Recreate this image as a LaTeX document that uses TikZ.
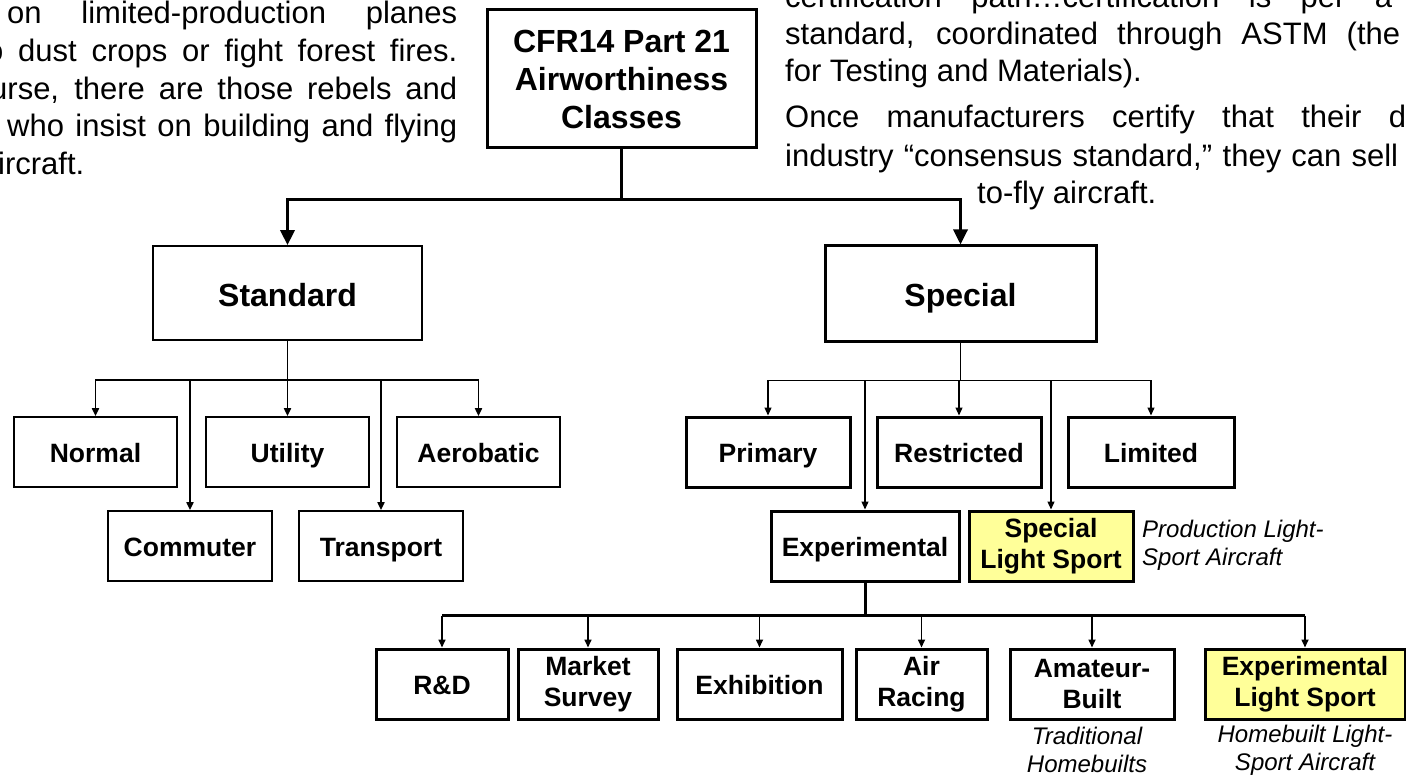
\documentclass[tikz,border=0pt]{standalone}
\usepackage{fontspec}
\setmainfont{Liberation Sans}
\usetikzlibrary{arrows.meta}
\definecolor{lsayellow}{HTML}{FFFF99}

\begin{document}
\begin{tikzpicture}[
  x=1pt,
  y=-1pt,
  topbox/.style={
    draw=black,
    fill=white,
    line width=3pt,
    inner sep=0pt,
    align=center,
    font=\bfseries\fontsize{32}{38}\selectfont
  },
  classbox/.style={
    draw=black,
    fill=white,
    line width=3pt,
    inner sep=0pt,
    minimum height=70pt,
    align=center,
    font=\bfseries\fontsize{26.5}{31}\selectfont
  },
  plainbox/.style={classbox, line width=1.7pt},
  lsabox/.style={classbox, fill=lsayellow},
  oneline/.style={text height=21pt, text depth=0pt},
  bigline/.style={text height=26pt, text depth=0pt},
  note/.style={font=\itshape\fontsize{24}{28}\selectfont, inner sep=0pt},
  bodytext/.style={font=\fontsize{31}{37}\selectfont, inner sep=0pt, anchor=base west},
  mainlink/.style={line width=3.3pt, -{Triangle[length=15pt,width=14pt]}},
  stdlink/.style={line width=1.8pt, -{Triangle[length=8pt,width=7pt]}},
  spclink/.style={line width=1.3pt, -{Triangle[length=8pt,width=7pt]}},
  buslink/.style={line width=3pt},
  droplink/.style={line width=1.6pt, -{Triangle[length=8pt,width=7pt]}}
]
\useasboundingbox (0,0) rectangle (1406,778);
\path[fill=white] (0,0) rectangle (1406,778);
\clip (0,0) rectangle (1406,778);

% ---------------------------------------------------------------------------
% Surrounding page text (cut by the picture edges)
% ---------------------------------------------------------------------------
\node[bodytext] (lefta) at (7,24) {\makebox[450pt][s]{on limited-production planes}};
\node[bodytext] (leftb) at (-14,62) {\makebox[471pt][s]{o dust crops or fight forest fires.}};
\node[bodytext] (leftc) at (-10,100) {\makebox[467pt][s]{urse, there are those rebels and}};
\node[bodytext] (leftd) at (7,137) {\makebox[450pt][s]{who insist on building and flying}};
\node[bodytext] (lefte) at (-2,175) {ircraft.};

\node[bodytext] (righta) at (785,8) {\makebox[607pt][s]{certification path…certification is per a}};
\node[bodytext] (rightb) at (785,45) {\makebox[615pt][s]{standard, coordinated through ASTM (the}};
\node[bodytext] (rightc) at (785,82) {for Testing and Materials).};
\node[bodytext] (rightd) at (785,128) {\makebox[621pt][s]{Once manufacturers certify that their d}};
\node[bodytext] (righte) at (785,167) {\makebox[613pt][s]{industry “consensus standard,” they can sell}};
\node[bodytext] (rightf) at (977,204) {to-fly aircraft.};

% ---------------------------------------------------------------------------
% Root and the two main classes
% ---------------------------------------------------------------------------
\node[topbox, minimum width=269pt, minimum height=138pt] (cfr) at (621.5,79)
  {CFR14 Part 21\\Airworthiness\\Classes};
\node[topbox, bigline, line width=1.7pt, minimum width=269pt, minimum height=94pt] (std) at (287.5,293) {Standard};
\node[topbox, bigline, minimum width=271pt, minimum height=95pt] (spc) at (960.5,293.5) {Special};

\draw[mainlink] (cfr.south) -- ++(0,50) coordinate (topbus) -| (std.north);
\draw[mainlink] (topbus) -| (spc.north);

% ---------------------------------------------------------------------------
% Standard categories
% ---------------------------------------------------------------------------
\node[plainbox, oneline, minimum width=163pt] (normal) at (95.5,452) {Normal};
\node[plainbox, oneline, minimum width=163pt] (utility) at (287.5,452) {Utility};
\node[plainbox, oneline, minimum width=163pt] (aerobatic) at (478.5,452) {Aerobatic};
\node[plainbox, oneline, minimum width=164pt] (commuter) at (190,546) {Commuter};
\node[plainbox, oneline, minimum width=164pt] (transport) at (381,546) {Transport};

\draw[line width=1.8pt] (std.south) -- ++(0,39) coordinate (stdbus);
\draw[stdlink] (stdbus) -| (normal.north);
\draw[stdlink] (stdbus) -| (commuter.north);
\draw[stdlink] (stdbus) -| (utility.north);
\draw[stdlink] (stdbus) -| (transport.north);
\draw[stdlink] (stdbus) -| (aerobatic.north);

% ---------------------------------------------------------------------------
% Special categories
% ---------------------------------------------------------------------------
\node[classbox, oneline, minimum width=164pt] (primary) at (768,452) {Primary};
\node[classbox, oneline, minimum width=164pt] (restricted) at (959,452) {Restricted};
\node[classbox, oneline, minimum width=166pt] (limited) at (1151,452) {Limited};
\node[classbox, oneline, minimum width=188pt] (exper) at (865,546) {Experimental};
\node[lsabox, minimum width=164pt] (slsport) at (1051,546) {Special\\Light Sport};
\node[note, anchor=west, align=left] (slsnote) at (1142,545) {Production Light-\\Sport Aircraft};

\draw[line width=1.3pt] (spc.south) -- ++(0,38) coordinate (spcbus);
\draw[spclink] (spcbus) -| (primary.north);
\draw[spclink] (spcbus) -| (exper.north);
\draw[spclink] (spcbus) -| (restricted.north);
\draw[spclink] (spcbus) -| (slsport.north);
\draw[spclink] (spcbus) -| (limited.north);

% ---------------------------------------------------------------------------
% Experimental purposes
% ---------------------------------------------------------------------------
\node[classbox, oneline, minimum width=132pt] (rnd) at (442,684) {R\&D};
\node[classbox, minimum width=140pt] (market) at (588,684) {Market\\Survey};
\node[classbox, oneline, minimum width=165pt] (exhib) at (759.5,684) {Exhibition};
\node[classbox, minimum width=131pt] (airrace) at (921.5,684) {Air\\Racing};
\node[classbox, minimum width=164pt] (amateur) at (1092,684) {Amateur-\\Built};
\node[lsabox, minimum width=200pt] (elsport) at (1305,684) {Experimental\\Light Sport};
\node[note, align=center] (amanote) at (1087,750) {Traditional\\Homebuilts};
\node[note, align=center] (elsnote) at (1305,750) {Homebuilt Light-\\Sport Aircraft};

\draw[buslink] (exper.south) -- ++(0,33) coordinate (expbus);
\draw[buslink] (rnd.north |- expbus) -- (elsport.north |- expbus);
\draw[droplink] (rnd.north |- expbus) -- (rnd.north);
\draw[droplink] (market.north |- expbus) -- (market.north);
\draw[droplink] (exhib.north |- expbus) -- (exhib.north);
\draw[droplink] (airrace.north |- expbus) -- (airrace.north);
\draw[droplink] (amateur.north |- expbus) -- (amateur.north);
\draw[droplink] (elsport.north |- expbus) -- (elsport.north);

\end{tikzpicture}
\end{document}
